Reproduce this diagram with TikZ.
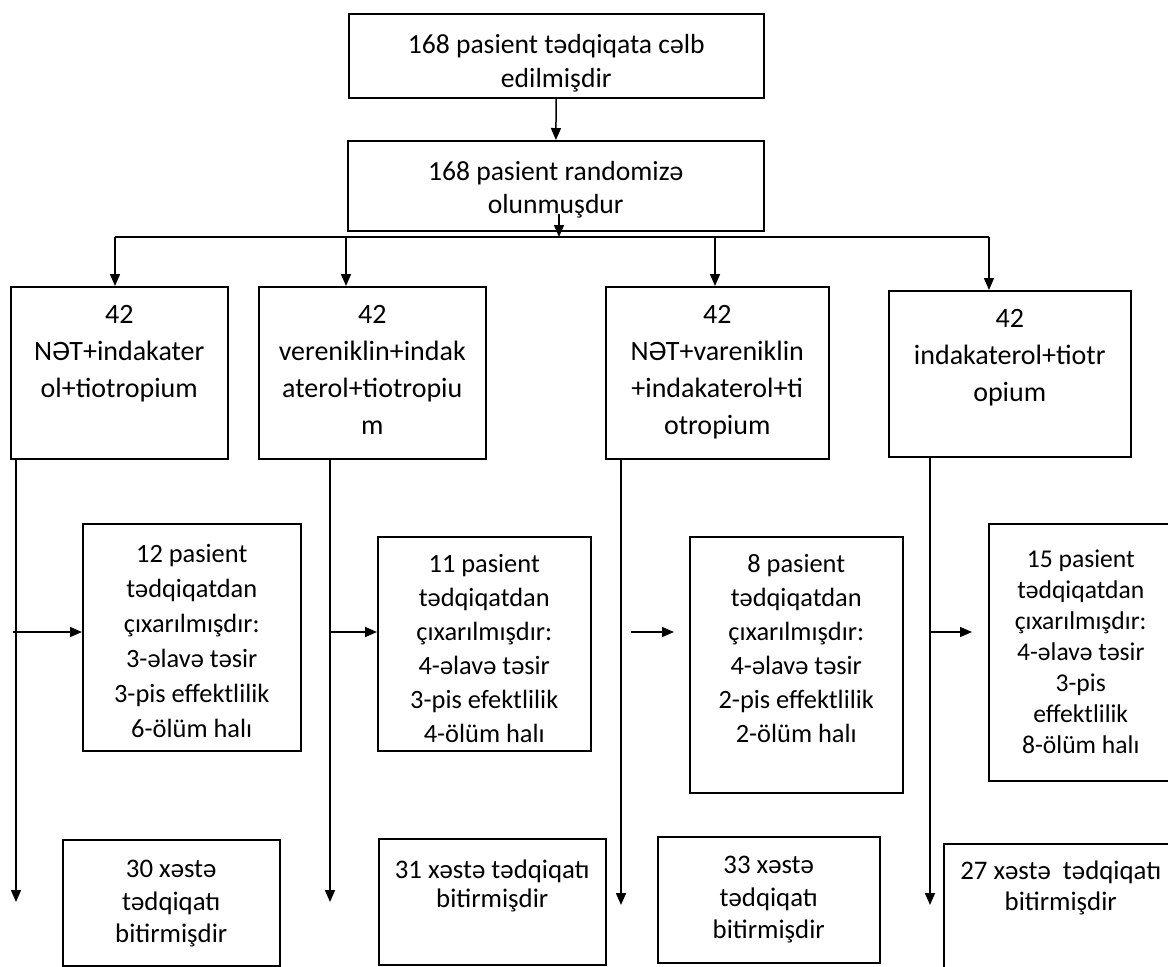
\documentclass[tikz,border=0pt]{standalone}
\usepackage{fontspec}
\setmainfont{Carlito}
\usetikzlibrary{arrows.meta}

\tikzset{
  qutu/.style={draw, line width=0.75pt, inner sep=0pt, anchor=north west},
  xett/.style={line width=0.75pt},
  ox/.style={line width=0.75pt, -{Triangle[length=6pt,width=5pt]}}
}
% qutu mətni: [şrift], en, hündürlük, sətir arası, ilk sətrin yeri, mətn
\newcommand{\qmetn}[6][13.8]{\parbox[c][#3][t]{#2}{\centering\fontsize{#1}{#4}\selectfont
  \vspace*{\dimexpr#5-9.5pt\relax}\rule{0pt}{9.5pt}#6}}

\begin{document}
\begin{tikzpicture}[x=0.5pt, y=-0.5pt]
    \useasboundingbox (0,0) rectangle (1168,966);
    \clip (0,0) rectangle (1168,966);

    % Yuxarı qutular
    \node[qutu] (celb) at (348,13) {\qmetn{207.5pt}{42pt}{17pt}{20pt}{168 pasient tədqiqata cəlb\\edilmişdir}};
    \node[qutu] (rand) at (347,140) {\qmetn{208pt}{45pt}{16.5pt}{20pt}{168 pasient randomizə\\olunmuşdur}};

    % Qruplar
    \node[qutu] (b1) at (10,286) {\qmetn[14]{108.5pt}{86pt}{18.5pt}{18.5pt}{42\\NƏT+indakater\\ol+tiotropium}};
    \node[qutu] (b2) at (258,286) {\qmetn[14]{113.5pt}{86pt}{18.5pt}{18.5pt}{42\\vereniklin+indak\\aterol+tiotropiu\\m}};
    \node[qutu] (b3) at (605,286) {\qmetn[14]{111.5pt}{86pt}{18.5pt}{18.5pt}{42\\NƏT+vareniklin\\+indakaterol+ti\\otropium}};
    \node[qutu] (b4) at (888,290) {\qmetn[14]{121pt}{83pt}{18.5pt}{18.5pt}{42\\indakaterol+tiotr\\opium}};

    % Tədqiqatdan çıxanlar
    \node[qutu] (e1) at (82,523) {\qmetn[13.2]{109pt}{113.5pt}{17.5pt}{19.5pt}{12 pasient\\tədqiqatdan\\çıxarılmışdır:\\3-əlavə təsir\\3-pis effektlilik\\6-ölüm halı}};
    \node[qutu] (e2) at (377,536) {\qmetn[13.2]{106.5pt}{107pt}{17pt}{18pt}{11 pasient\\tədqiqatdan\\çıxarılmışdır:\\4-əlavə təsir\\3-pis efektlilik\\4-ölüm halı}};
    \node[qutu] (e3) at (689,536) {\qmetn[13.2]{106.5pt}{128pt}{17pt}{18pt}{8 pasient\\tədqiqatdan\\çıxarılmışdır:\\4-əlavə təsir\\2-pis effektlilik\\2-ölüm halı}};
    \node[qutu] (e4) at (988,523) {\qmetn[12.8]{92pt}{128.5pt}{15.5pt}{22pt}{15 pasient\\tədqiqatdan\\çıxarılmışdır:\\4-əlavə təsir\\3-pis\\effektlilik\\8-ölüm halı}};

    % Bitirənlər
    \node[qutu] (f1) at (62,839) {\qmetn[13.4]{108.5pt}{63pt}{16.25pt}{19pt}{30 xəstə\\tədqiqatı\\bitirmişdir}};
    \node[qutu] (f2) at (378,838) {\qmetn[13.4]{113.5pt}{63pt}{14.5pt}{20pt}{31 xəstə tədqiqatı\\bitirmişdir}};
    \node[qutu] (f3) at (657,836) {\qmetn[13.4]{111pt}{63pt}{16.25pt}{18.5pt}{33 xəstə\\tədqiqatı\\bitirmişdir}};
    \node[qutu] (f4) at (943,843) {\qmetn[13.4]{117pt}{62pt}{15.5pt}{18pt}{27 xəstə\ \ tədqiqatı\\bitirmişdir}};

    % Oxlar
    \coordinate (bus) at (559,237);
    \draw[ox] (celb) -- (rand);
    \draw[ox] ([yshift=9pt]rand.south -| bus) -- (bus);
    \foreach \i/\x in {1/115, 2/346, 3/715, 4/989}
        \coordinate (d\i) at (\x,237);
    \draw[xett] (d1) -- (d4);
    \foreach \i in {1,...,4}
        \draw[ox] (d\i) -- (d\i |- b\i.north);

    % Şaquli xətlər və yan oxlar
    \foreach \i/\x/\y/\h/\k in {1/16/902/13/0, 2/330/902/330/0, 3/621/905/631/7.5, 4/930/905/930/8} {
        \coordinate (s\i) at (\x,\y);
        \coordinate (h\i) at (\h,632);
        \draw[ox] (s\i |- b\i.south) -- (s\i);
        \draw[ox, shorten >=\k pt] (h\i) -- (h\i -| e\i.west);
    }
\end{tikzpicture}
\end{document}
